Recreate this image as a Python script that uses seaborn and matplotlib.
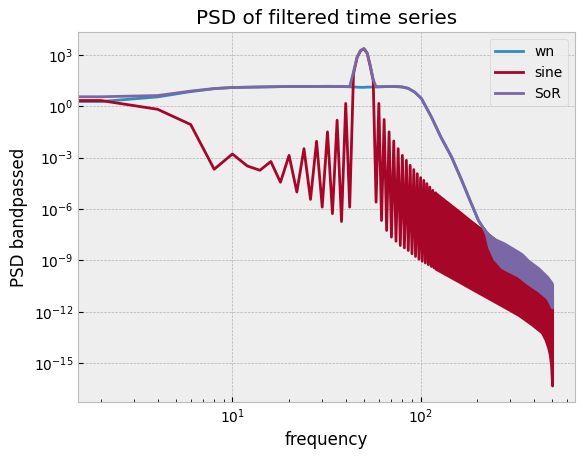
import numpy as np
import matplotlib
matplotlib.use('Agg')
import matplotlib.pyplot as plt
import seaborn as sns

# --- values (log10 of the PSD) ---
# sine: every bin up to 120 Hz, one value per 2 Hz bin
freq_bins = [0, 2, 4, 6, 8, 10, 12, 14, 16, 18,
             20, 22, 24, 26, 28, 30, 32, 34, 36, 38,
             40, 42, 44, 46, 48, 50, 52, 54, 56, 58,
             60, 62, 64, 66, 68, 70, 72, 74, 76, 78,
             80, 82, 84, 86, 88, 90, 92, 94, 96, 98,
             100, 102, 104, 106, 108, 110, 112, 114, 116, 118,
             120]
sine_log = [0.33, 0.33, -0.18, -1.07, -3.68, -2.79, -3.49, -3.74, -3.23, -4.44,
            -2.87, -5.01, -2.48, -5.44, -2.05, -5.89, -1.50, -6.27, -0.82, -6.73,
            0.16, -5.89, 1.9, 2.85, 3.24, 3.35, 3.09, 2.33, 1.5, -5.6,
            0.16, -6.67, -0.78, -7.25, -1.5, -7.64, -2.03, -7.88, -2.48, -8.13,
            -2.87, -8.27, -3.16, -8.42, -3.45, -8.61, -3.70, -8.77, -3.94, -8.93,
            -4.17, -9.05, -4.33, -9.15, -4.52, -9.25, -4.72, -9.35, -4.91, -9.44,
            -5.07]

# sine above 120 Hz: dense oscillation, read as upper / lower edge
sine_band_f = [120, 140, 160, 187, 215, 250, 280, 330, 387, 440, 460, 476, 485, 493, 500]
sine_band_hi = [-5.07, -5.65, -6.15, -6.75, -7.25, -7.8, -8.3, -8.9, -9.6, -10.2,
                -10.4, -10.6, -10.7, -10.8, -11.0]
sine_band_lo = [-9.48, -9.89, -10.24, -10.66, -11.03, -11.43, -11.73, -12.17, -12.71, -13.2,
                -13.6, -14.08, -14.45, -15.05, -16.3]

# white noise
wn_f = [0, 2, 4, 6, 8, 10, 14, 20, 30, 40, 44, 48, 50, 52, 56, 60, 70, 80, 86, 93, 101,
        114, 128, 146, 165, 183, 203, 215, 260, 330, 420, 500]
wn_log = [0.27, 0.27, 0.54, 0.85, 1.02, 1.09, 1.12, 1.15, 1.15, 1.14, 1.12, 1.1, 1.1, 1.11,
          1.12, 1.13, 1.15, 1.12, 1.04, 0.82, 0.45, -0.62, -1.79, -2.96, -4.3, -5.5, -6.67,
          -7.1, -8.4, -9.2, -10.0, -10.9]

# sine + noise
sor_f = [0, 2, 4, 6, 8, 10, 14, 20, 26, 32, 38, 42, 44, 46, 48, 50, 52, 54, 56, 58,
         70, 76, 80, 86, 93, 101, 114, 128, 146, 165, 183, 203, 215]
sor_log = [0.55, 0.55, 0.62, 0.88, 1.03, 1.09, 1.12, 1.15, 1.15, 1.16, 1.15, 1.14,
           2.0, 2.87, 3.25, 3.36, 3.11, 2.38, 1.55, 1.13, 1.15, 1.15, 1.12, 1.04, 0.82,
           0.45, -0.62, -1.79, -2.96, -4.3, -5.5, -6.67, -7.1]
sor_band_f = [215, 222, 231, 246, 270, 280, 330, 346, 372, 422, 460, 470, 485, 496, 500]
sor_band_hi = [-7.1, -7.3, -7.5, -7.75, -7.94, -8.03, -8.5, -8.65, -9.0, -9.45,
               -9.85, -9.95, -10.15, -10.3, -10.4]
sor_band_lo = [-7.1, -7.44, -8.23, -8.9, -9.4, -9.5, -9.9, -10.08, -10.35, -10.76,
               -11.1, -11.2, -11.45, -11.7, -11.75]

blue = '#348ABD'
red = '#A60628'
purple = '#7A68A6'

plt.style.use('bmh')
fig = plt.figure(figsize=(5.83, 4.59), dpi=100)
ax = fig.add_axes([0.1343, 0.1235, 0.8515, 0.8061])

sns.lineplot(x=wn_f, y=10 ** np.array(wn_log), ax=ax, color=blue, lw=2, label='wn', zorder=2)

sns.lineplot(x=freq_bins, y=10 ** np.array(sine_log), ax=ax, color=red, lw=2, label='sine', zorder=2.1)
ax.fill_between(sine_band_f, 10 ** np.array(sine_band_lo), 10 ** np.array(sine_band_hi),
                facecolor=red, edgecolor=red, lw=2, joinstyle='round', zorder=2.1)

sns.lineplot(x=sor_f, y=10 ** np.array(sor_log), ax=ax, color=purple, lw=2, label='SoR', zorder=2.2)
ax.fill_between(sor_band_f, 10 ** np.array(sor_band_lo), 10 ** np.array(sor_band_hi),
                facecolor=purple, edgecolor=purple, lw=2, joinstyle='round', zorder=2.2)

ax.set_xscale('log')
ax.set_yscale('log')
ax.set_xlim(10 ** 0.181, 10 ** 2.819)
ax.set_ylim(10 ** -17.28, 10 ** 4.31)
# only the decades that fall inside the view
ax.set_xticks([10, 100])

ax.set_title('PSD of filtered time series')
ax.set_xlabel('frequency')
ax.set_ylabel('PSD bandpassed')
ax.legend(loc='upper right')

fig.savefig('out.png', dpi=100)
